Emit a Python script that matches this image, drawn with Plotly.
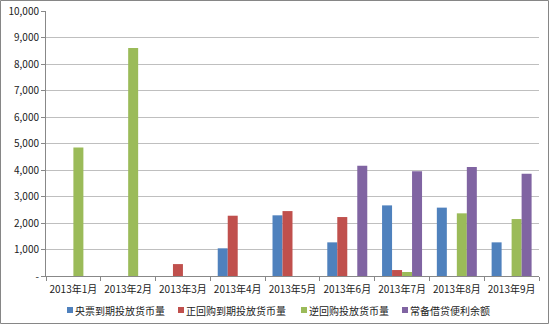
import plotly.graph_objects as go

months = ["2013年1月", "2013年2月", "2013年3月", "2013年4月", "2013年5月",
          "2013年6月", "2013年7月", "2013年8月", "2013年9月"]
s_names = ["央票到期投放货币量", "正回购到期投放货币量", "逆回购投放货币量", "常备借贷便利余额"]
s_colors = ["#4F81BD", "#C0504D", "#9BBB59", "#8064A2"]
yangpiao = [0, 0, 0, 1045, 2290, 1270, 2665, 2580, 1270]
zhenghuigou = [0, 0, 450, 2275, 2450, 2225, 225, 0, 0]
nihuigou = [4850, 8600, 0, 0, 0, 0, 150, 2365, 2150]
changbei = [0, 0, 0, 0, 0, 4165, 3950, 4110, 3860]
y_ticks = [0, 1000, 2000, 3000, 4000, 5000, 6000, 7000, 8000, 9000, 10000]
y_ticktext = ["-"] + [f"{v:,}" for v in y_ticks[1:]]

series = [yangpiao, zhenghuigou, nihuigou, changbei]

fig = go.Figure()
for name, color, vals in zip(s_names, s_colors, series):
    fig.add_trace(go.Bar(x=months, y=vals, name=name, marker_color=color,
                         marker_line_width=0))

W, H = 550, 325
ml, mr, mt, mb = 46, 11, 11, 49
pw, ph = W - ml - mr, H - mt - mb


def px_x(p):
    return (p - ml) / pw


def px_y(p):
    return (H - mb - p) / ph


# legend row (drawn as key squares + text labels below the plot)
legend_sq_x = [70, 181, 304, 405]
legend_y = 310
shapes = [dict(type="rect", xref="paper", yref="paper",
               x0=-(ml - 0.5) / pw, x1=1 + (mr - 1.5) / pw,
               y0=-(mb - 1.5) / ph, y1=1 + (mt - 0.5) / ph,
               line=dict(color="#868686", width=1))]
annotations = []
for name, color, sx in zip(s_names, s_colors, legend_sq_x):
    shapes.append(dict(type="rect", xref="paper", yref="paper",
                       x0=px_x(sx - 3), x1=px_x(sx + 3),
                       y0=px_y(legend_y + 3), y1=px_y(legend_y - 3),
                       fillcolor=color, line=dict(width=0)))
    annotations.append(dict(text=name, xref="paper", yref="paper",
                            x=px_x(sx + 3), y=px_y(legend_y),
                            xanchor="left", yanchor="middle", showarrow=False,
                            font=dict(size=10, color="#222222")))

fig.update_layout(
    width=W, height=H,
    margin=dict(l=ml, r=mr, t=mt, b=mb, pad=0, autoexpand=False),
    paper_bgcolor="white", plot_bgcolor="white",
    barmode="group", bargap=0.27, bargroupgap=0,
    font=dict(family="Noto Sans CJK SC, DejaVu Sans", size=10, color="#222222"),
    showlegend=False,
    xaxis=dict(showline=True, linecolor="#888888", linewidth=1,
               ticks="outside", tickson="boundaries", ticklen=4, tickcolor="#888888",
               showgrid=False, tickfont=dict(size=10), tickangle=0, automargin=False,
               ticklabelstandoff=4),
    yaxis=dict(range=[0, 10000], tickvals=y_ticks, ticktext=y_ticktext,
               showgrid=True, gridcolor="#bfbfbf", gridwidth=1,
               showline=True, linecolor="#888888", linewidth=1,
               ticks="outside", ticklen=4, tickcolor="#888888",
               zeroline=False, tickfont=dict(size=10), automargin=False),
    shapes=shapes,
    annotations=annotations,
)

fig.write_html("out.html")
